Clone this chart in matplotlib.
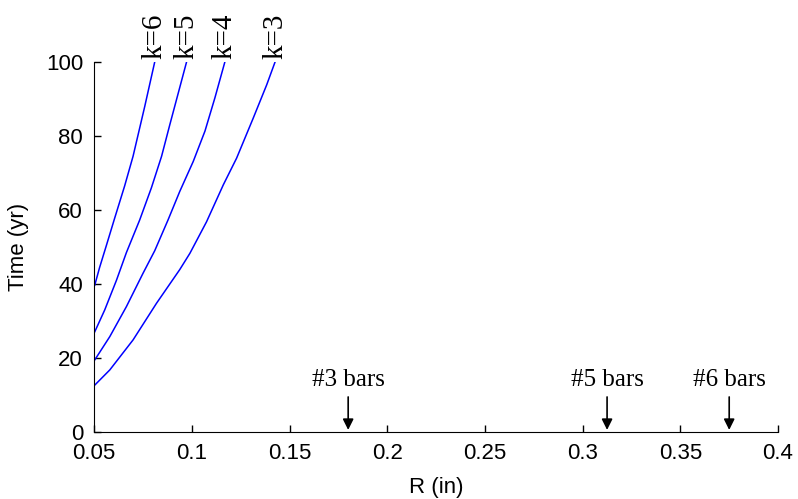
import numpy as np
import matplotlib
matplotlib.use('Agg')
import matplotlib.pyplot as plt

# curves: R (in) vs time (yr) for each k
r_k3 = [0.0503, 0.058, 0.0699, 0.0819, 0.0938, 0.099, 0.1075, 0.1161, 0.1229, 0.1314, 0.1383, 0.1426]
t_k3 = [12.7, 16.8, 24.9, 34.8, 43.9, 48.3, 56.8, 66.8, 74.0, 84.8, 93.8, 100]
r_k4 = [0.0503, 0.058, 0.0665, 0.075, 0.081, 0.0878, 0.0938, 0.1007, 0.1067, 0.1118, 0.1169]
t_k4 = [19.5, 25.8, 33.9, 42.9, 49.0, 57.3, 65.0, 73.1, 81.3, 90.3, 100]
r_k5 = [0.0503, 0.0554, 0.0614, 0.0665, 0.0733, 0.0793, 0.0845, 0.0887, 0.093, 0.0973]
t_k5 = [27.1, 33.0, 41.0, 48.5, 57.3, 66.0, 74.5, 83.0, 91.5, 100]
r_k6 = [0.0503, 0.0528, 0.0563, 0.0605, 0.0656, 0.0699, 0.0759, 0.081]
t_k6 = [39.7, 44.5, 50.5, 57.8, 66.5, 74.5, 88.0, 100]

curves = [(r_k6, t_k6, 'k=6'), (r_k5, t_k5, 'k=5'),
          (r_k4, t_k4, 'k=4'), (r_k3, t_k3, 'k=3')]

bar_names = ['#3 bars', '#5 bars', '#6 bars']
bar_radius = [0.18, 0.3125, 0.375]

xticks = [0.05, 0.1, 0.15, 0.2, 0.25, 0.3, 0.35, 0.4]
xticklabels = ['0.05', '0.1', '0.15', '0.2', '0.25', '0.3', '0.35', '0.4']
yticks = [0, 20, 40, 60, 80, 100]

plt.rcParams['font.family'] = ['Liberation Sans', 'DejaVu Sans']

fig = plt.figure(figsize=(7.98, 4.99), dpi=100)
ax = fig.add_axes([0.118, 0.134, 0.857, 0.742])

for r, t, lab in curves:
    ax.plot(r, t, color='#0000ff', lw=1.1)
    ax.text(r[-1], 100.8, lab, rotation=90, ha='center', va='bottom',
            family='Liberation Serif', fontsize=21)

for name, r in zip(bar_names, bar_radius):
    ax.annotate('', xy=(r, 0.6), xytext=(r, 9.5),
                arrowprops=dict(arrowstyle='-|>', color='black', lw=1.2,
                                mutation_scale=16, shrinkA=0, shrinkB=0))
    ax.text(r, 12.4, name, ha='center', va='baseline',
            family='Liberation Serif', fontsize=18)

ax.set_xlim(0.05, 0.4)
ax.set_ylim(0, 100)
ax.set_xticks(xticks)
ax.set_xticklabels(xticklabels)
ax.set_yticks(yticks)
ax.tick_params(direction='in', length=5, labelsize=16, width=1)
ax.tick_params(axis='x', pad=8)
ax.tick_params(axis='y', pad=8)
ax.spines['top'].set_visible(False)
ax.spines['right'].set_visible(False)
ax.set_xlabel('R (in)', fontsize=16, labelpad=9)
ax.set_ylabel('Time (yr)', fontsize=16, labelpad=12)

fig.savefig('out.png', dpi=100)
